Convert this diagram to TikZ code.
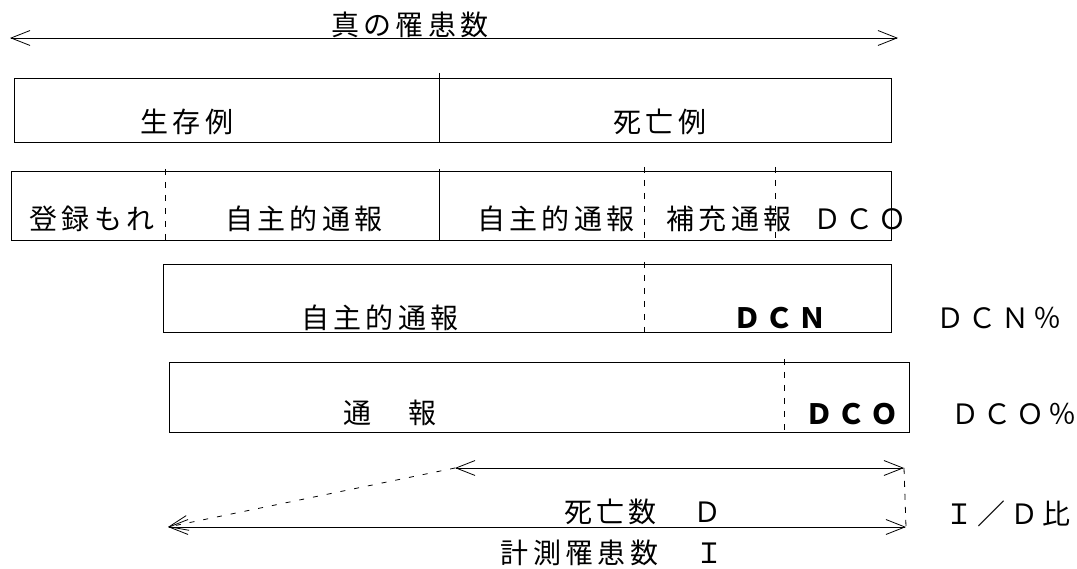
\documentclass[tikz,border=0pt]{standalone}
\usepackage{fontspec}
\newfontfamily\cjk[LetterSpace=16]{Noto Sans CJK JP}
\usetikzlibrary{arrows.meta}
\tikzset{
  boxline/.style={black, line width=0.9pt},
  split/.style={black, line width=0.8pt, dash pattern=on 6pt off 7pt},
  slant/.style={black, line width=0.8pt, dash pattern=on 5pt off 9pt},
  txt/.style={inner sep=0pt, font=\cjk\fontsize{28}{28}\selectfont},
  boldtxt/.style={txt, font=\cjk\bfseries\fontsize{28}{28}\selectfont},
  barb/.tip={Straight Barb[length=19pt,width=15pt]},
  measure/.style={black, line width=0.8pt, barb-barb},
}

\begin{document}
\begin{tikzpicture}[x=1pt, y=-1pt]
            \useasboundingbox (0,0) rectangle (1077,569);
            % True incidence
            \coordinate (trueL) at ( 10, 38);
            \coordinate (trueR) at (898, 38);
            \draw[measure] (trueL) -- (trueR);
            \node[txt] (true)    at (410, 25) {真の罹患数};
            % Alive / dead
            \draw[boxline] ( 14, 78) rectangle (891,142);
            \draw[boxline] (439, 73) -- (439,142);
            \node[txt] (alive)   at (187,122) {生存例};
            \node[txt] (dead)    at (660,122) {死亡例};
            % Sources
            \draw[boxline] ( 11,171) rectangle (891,240);
            \draw[split]   (165,169) -- (165,240);
            \draw[boxline] (439,169) -- (439,240);
            \draw[split]   (644,167) -- (644,240);
            \draw[split]   (775,167) -- (775,240);
            \node[txt] (missed)  at ( 92,219) {登録もれ};
            \node[txt] (volA)    at (304,219) {自主的通報};
            \node[txt] (volB)    at (556,219) {自主的通報};
            \node[txt] (extra)   at (729,219) {補充通報};
            \node[txt] (dcoA)    at (860,219) {ＤＣＯ};
            % DCN
            \draw[boxline] (163,264) rectangle (891,332);
            \draw[split]   (644,262) -- (644,333);
            \node[txt]     (volC) at (380,318) {自主的通報};
            \node[boldtxt] (dcn)  at (780,318) {ＤＣＮ};
            \node[txt]     (dcnP) at (999,318) {ＤＣＮ％};
            % DCO
            \draw[boxline] (169,362) rectangle (909,432);
            \draw[split]   (784,359) -- (784,432);
            \node[txt]     (rep)  at (390,413) {通　報};
            \node[boldtxt] (dcoB) at (852,414) {ＤＣＯ};
            \node[txt]     (dcoP) at (1014,414) {ＤＣＯ％};
            % Deaths and measured incidence
            \coordinate (deathL) at (455,468);
            \coordinate (deathR) at (904,468);
            \coordinate (measL)  at (168,527);
            \coordinate (measR)  at (906,527);
            \draw[measure] (deathL) -- (deathR);
            \draw[measure] (measL) -- (measR);
            \draw[slant, -barb] (deathL) -- (measL);
            \draw[split] (deathR) -- (measR);
            \node[txt] (deaths)  at (643,512) {死亡数　Ｄ};
            \node[txt] (meas)    at (612,553) {計測罹患数　Ｉ};
            \node[txt] (ratio)   at (1008,514) {Ｉ／Ｄ比};
\end{tikzpicture}
\end{document}
